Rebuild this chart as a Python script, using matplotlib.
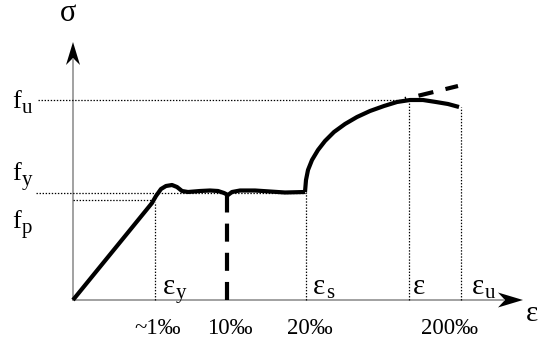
"""
plot.py - schematic stress-strain curve of reinforcing steel.

Coordinates are schematic: the origin sits where the two axes meet and
one unit is one pixel of the 540x340 output image.
"""

import matplotlib
matplotlib.use("Agg")
import matplotlib.pyplot as plt

plt.rcParams["font.family"] = ["Liberation Serif", "DejaVu Serif"]
plt.rcParams["lines.scale_dashes"] = False

# ---- data (schematic units) ----
# elastic branch, yield hump and plateau
plateau_strain = [0, 79, 83, 88, 93, 99, 104, 109, 115, 127, 137, 145, 151, 155,
                  159, 167, 182, 197, 212, 232]
plateau_stress = [0, 97, 104, 111, 114, 115, 113, 109, 108, 109, 109.5, 109, 107, 105,
                  108, 109.5, 109.5, 108.5, 107.5, 108]
# strain hardening branch
harden_strain = [232, 233, 235, 239, 245, 252, 261, 272, 284, 297, 311, 324, 337,
                 350, 363, 375, 386]
harden_stress = [108, 120, 130, 140, 150, 159, 168, 176, 183, 189, 194, 198, 200,
                 200, 198, 196, 193]
# tangent extension past the peak
tangent_strain = [332, 385]
tangent_stress = [201, 214]

# characteristic levels
f_u, f_y, f_p = 200, 107, 100
eps_y, eps_10, eps_s, eps_peak, eps_u = 82, 154, 233, 336, 388
stress_at = {eps_y: 98, eps_s: 108, eps_peak: 200, eps_u: 193}

stress_labels = [("f", "u", 192), ("f", "y", 120), ("f", "p", 72)]
strain_labels = [("ε", "y", 90), ("ε", "s", 240), ("ε", "", 340), ("ε", "u", 399)]
tick_labels = ["~1‰", "10‰", "20‰", "200‰"]
tick_pos = [85, 157, 237, 376]

x_end, y_end = 450, 258

fig = plt.figure(figsize=(5.4, 3.4), dpi=100)
ax = fig.add_axes([0, 0, 1, 1])
ax.set_xlim(-73, 467)
ax.set_ylim(-40, 300)
ax.axis("off")
renderer = fig.canvas.get_renderer()


def sub_label(x, y, base, sub, size, sub_size, drop=4):
    """Base glyph with a lowered subscript drawn right after it."""
    t = ax.text(x, y, base, fontsize=size, ha="left", va="baseline")
    if not sub:
        return
    bb = t.get_window_extent(renderer).transformed(ax.transData.inverted())
    ax.text(bb.x1 + 0.5, y - drop, sub, fontsize=sub_size, ha="left", va="baseline")


# axes with notched arrow heads
gray = "#9a9a9a"
ax.plot([0, x_end - 20], [0, 0], color=gray, lw=1.3, zorder=1)
ax.plot([0, 0], [0, y_end - 18], color=gray, lw=1.3, zorder=1)
L, W, N = 25, 7.5, 7
ax.fill([x_end, x_end - L, x_end - L + N, x_end - L], [0, W, 0, -W],
        color="black", lw=0, zorder=3)
L, W, N = 23, 7, 7
ax.fill([0, -W, 0, W], [y_end, y_end - L, y_end - L + N, y_end - L],
        color="black", lw=0, zorder=3)

# dotted guide lines
dot = dict(color="black", lw=0.9, ls=(0, (1.0, 1.2)), zorder=2)
ax.plot([-35, eps_peak + 1], [f_u, f_u], **dot)
ax.plot([-37, eps_s], [f_y, f_y], **dot)
ax.plot([0, eps_y], [f_p, f_p], **dot)
for e in [eps_y, eps_s, eps_peak, eps_u]:
    ax.plot([e, e], [0, stress_at[e]], **dot)

# the curve
curve = dict(color="black", lw=3.0, solid_capstyle="butt", solid_joinstyle="round",
             zorder=4)
ax.plot(plateau_strain, plateau_stress, **curve)
ax.plot(harden_strain, harden_stress, **curve)
ax.plot(tangent_strain, tangent_stress, color="black", lw=3.0,
        ls=(10, (11, 9)), dash_capstyle="butt", zorder=4)
ax.plot([eps_10, eps_10], [0, 105], color="black", lw=3.0,
        ls=(0, (13, 8)), dash_capstyle="butt", zorder=4)

# labels
for base, sub, y in stress_labels:
    sub_label(-61, y, base, sub, 19, 15, drop=5)
for base, sub, x in strain_labels:
    sub_label(x, 6, base, sub, 21, 15, drop=4)
ax.text(-5, 279, "σ", fontsize=22, ha="center", va="baseline")
ax.text(453, -21, "ε", fontsize=21, ha="left", va="baseline")
for lab, x in zip(tick_labels, tick_pos):
    ax.text(x, -34, lab, fontsize=16.5, ha="center", va="baseline")

fig.savefig("out.png", dpi=100)
